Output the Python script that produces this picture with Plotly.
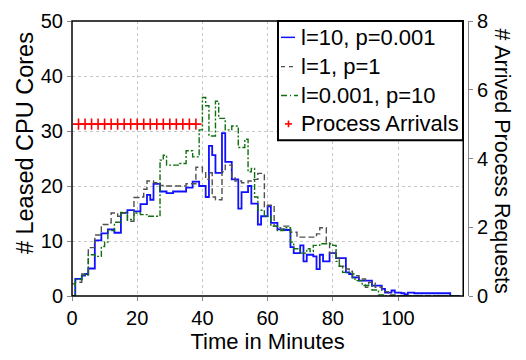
import plotly.graph_objects as go

minutes = list(range(0, 120))

blue_l10_p0001 = [
    0, 3.1, 3.1, 3.7, 4.0, 5.0, 5.0, 10.1, 10.1, 11.4,
    11.4, 12.1, 12.1, 11.5, 11.5, 15.1, 15.1, 15.6, 15.6, 15.4,
    15.4, 16.7, 16.7, 18.4, 17.5, 20.4, 20.4, 19.0, 19.0, 18.7,
    18.7, 19.0, 19.0, 19.0, 19.0, 19.7, 19.7, 20.8, 20.8, 20.0,
    20.0, 18.0, 27.3, 25.6, 22.4, 22.4, 29.6, 24.4, 24.4, 21.2,
    21.2, 15.9, 18.9, 18.9, 20.0, 16.8, 16.8, 13.0, 14.5, 14.5,
    16.3, 13.3, 13.3, 12.1, 12.1, 12.0, 12.0, 8.9, 7.8, 7.8,
    9.2, 6.3, 7.5, 7.5, 7.2, 4.9, 7.5, 6.3, 6.3, 7.8,
    7.8, 6.9, 6.9, 6.9, 4.3, 4.0, 3.4, 3.4, 2.8, 2.8,
    2.8, 2.8, 1.9, 1.9, 1.9, 1.3, 0.6, 0.6, 1.0, 0.6,
    0.6, 0.5, 0.3, 0.6, 0.6, 0.5, 0.5, 0.5, 0.5, 0.5,
    0.5, 0.5, 0.5, 0.5, 0.5, 0.5, 0, 0, 0, 0,
]

gray_l1_p1 = [
    2.2, 2.5, 2.5, 4.0, 4.0, 8.8, 8.8, 11.1, 11.1, 13.0,
    13.0, 13.3, 15.1, 15.1, 14.5, 15.1, 15.1, 13.6, 13.6, 17.9,
    17.9, 18.0, 19.4, 20.9, 20.9, 20.6, 20.6, 20.1, 20.1, 20.0,
    20.0, 20.0, 20.0, 20.0, 20.0, 20.4, 20.4, 20.4, 23.4, 23.4,
    22.6, 21.2, 22.4, 18.0, 17.5, 17.5, 22.6, 23.8, 23.8, 21.5,
    20.9, 20.9, 20.6, 20.6, 20.9, 21.2, 21.2, 22.3, 22.3, 16.2,
    16.5, 16.5, 12.7, 12.4, 12.1, 12.7, 12.7, 11.6, 11.6, 10.7,
    10.7, 10.7, 10.7, 10.7, 10.7, 11.3, 12.4, 12.4, 9.8, 7.8,
    8.1, 6.9, 5.4, 5.4, 4.9, 4.5, 4.0, 3.7, 3.1, 3.1,
    1.6, 2.5, 2.5, 1.6, 1.6, 0.8, 0.8, 0.2, 0.2, 0.2,
    0, 0, 0, 0, 0, 0, 0, 0, 0, 0,
    0, 0, 0, 0, 0, 0, 0, 0, 0, 0,
]

green_l0001_p10 = [
    0, 3.0, 3.0, 3.8, 3.8, 7.5, 7.5, 7.2, 7.2, 9.0,
    9.8, 11.9, 11.9, 13.4, 13.4, 15.2, 15.2, 13.9, 13.9, 15.1,
    15.1, 14.8, 14.8, 14.5, 14.5, 14.5, 14.5, 24.7, 25.6, 23.8,
    23.8, 23.8, 23.8, 24.1, 24.1, 26.4, 26.4, 25.3, 25.3, 30.2,
    36.1, 34.6, 29.1, 29.1, 35.4, 32.3, 32.3, 30.2, 30.2, 30.9,
    30.9, 27.0, 27.0, 28.5, 22.6, 23.2, 18.0, 15.6, 15.6, 14.5,
    14.5, 12.7, 12.7, 11.9, 11.9, 12.4, 12.4, 9.8, 8.6, 8.6,
    7.8, 7.8, 8.6, 8.1, 9.2, 9.2, 9.5, 9.5, 9.5, 9.5,
    9.2, 6.3, 5.4, 4.3, 4.3, 4.3, 3.1, 2.8, 2.8, 1.9,
    1.9, 1.9, 1.1, 1.1, 0.2, 0.2, 0, 0, 0, 0,
    0, 0, 0, 0, 0, 0, 0, 0, 0, 0,
    0, 0, 0, 0, 0, 0, 0, 0, 0, 0,
]

arrival_times = [2, 4, 6, 8, 10, 12, 14, 16, 18, 20, 22, 24, 26, 28, 30, 32, 34, 36, 38]
arrival_counts = [5, 5, 5, 5, 5, 5, 5, 5, 5, 5, 5, 5, 5, 5, 5, 5, 5, 5, 5]

left_ticks = [0, 10, 20, 30, 40, 50]
right_ticks = [0, 2, 4, 6, 8]
x_ticks = [0, 20, 40, 60, 80, 100]

series_names = ["l=10, p=0.001", "l=1, p=1", "l=0.001, p=10", "Process Arrivals"]
BLUE, GRAY, GREEN, RED = "#1010ff", "#505050", "#107010", "#ff0000"

FONT = "Liberation Sans, Arial, sans-serif"

# plot area geometry (pixels) used to place the hand-drawn legend box
L, T, PW, PH = 72, 10, 396, 286


def px(xp):
    return (xp - L) / PW


def py(yp):
    return (T + PH - yp) / PH


fig = go.Figure()
fig.add_trace(go.Scatter(
    x=minutes, y=blue_l10_p0001, mode="lines", line_shape="hv",
    name=series_names[0], line=dict(color=BLUE, width=1.8)))
fig.add_trace(go.Scatter(
    x=minutes, y=gray_l1_p1, mode="lines", line_shape="hv",
    name=series_names[1], line=dict(color=GRAY, width=1.4, dash="6px,3px")))
fig.add_trace(go.Scatter(
    x=minutes, y=green_l0001_p10, mode="lines", line_shape="hv",
    name=series_names[2], line=dict(color=GREEN, width=1.4, dash="6px,2px,2px,2px")))
fig.add_trace(go.Scatter(
    x=arrival_times, y=arrival_counts, mode="markers", yaxis="y2",
    name=series_names[3],
    marker=dict(symbol="cross-thin", size=8, line=dict(color=RED, width=1.6), color=RED)))

# legend drawn as a box in the top-right corner
row_y = [27, 57.5, 87.5, 117]
shapes = [
    dict(type="rect", xref="x domain", yref="y domain", x0=0, x1=1, y0=0, y1=1,
         line=dict(color="black", width=1.5), layer="above"),
    dict(type="rect", xref="paper", yref="paper", x0=px(278), x1=px(463), y0=py(134), y1=py(10),
         fillcolor="white", line=dict(color="black", width=2), layer="above"),
    dict(type="line", xref="paper", yref="paper", x0=px(281), x1=px(295), y0=py(row_y[0]), y1=py(row_y[0]),
         line=dict(color=BLUE, width=1.5), layer="above"),
    dict(type="line", xref="paper", yref="paper", x0=px(281), x1=px(297), y0=py(row_y[1]), y1=py(row_y[1]),
         line=dict(color=GRAY, width=1.3, dash="4px,4px"), layer="above"),
    dict(type="line", xref="paper", yref="paper", x0=px(281), x1=px(298), y0=py(row_y[2]), y1=py(row_y[2]),
         line=dict(color=GREEN, width=1.3, dash="6px,3px,1px,3px"), layer="above"),
    dict(type="line", xref="paper", yref="paper", x0=px(285), x1=px(292), y0=py(row_y[3]), y1=py(row_y[3]),
         line=dict(color=RED, width=1.6), layer="above"),
    dict(type="line", xref="paper", yref="paper", x0=px(288.5), x1=px(288.5), y0=py(row_y[3] - 3.5), y1=py(row_y[3] + 3.5),
         line=dict(color=RED, width=1.6), layer="above"),
]

annotations = [
    dict(text="# Arrived Process Requests", textangle=90,
         xref="paper", yref="paper", x=px(502), xanchor="center",
         y=py(155), yanchor="middle", showarrow=False, font=dict(size=21.5)),
    dict(text="# Leased CPU Cores", textangle=-90,
         xref="paper", yref="paper", x=px(25), xanchor="center",
         y=py(137), yanchor="middle", showarrow=False, font=dict(size=23.5)),
]
for name, yy in zip(series_names, row_y):
    annotations.append(dict(text=name, xref="paper", yref="paper", x=px(299), xanchor="left",
                            y=py(yy), yanchor="middle", showarrow=False, font=dict(size=22)))

fig.update_layout(
    width=526, height=360,
    margin=dict(l=72, r=58, t=10, b=64),
    paper_bgcolor="white", plot_bgcolor="white",
    font=dict(family=FONT, size=20, color="black"),
    showlegend=False,
    xaxis=dict(
        domain=[0, 0.988], range=[0, 120],
        tickvals=x_ticks, ticks="outside", ticklen=4, tickcolor="#888888",
        showgrid=True, gridcolor="#c8c8c8", griddash="dot", gridwidth=1,
        zeroline=False, showline=False, ticklabeloverflow="allow",
        title=dict(text="Time in Minutes", font=dict(size=22), standoff=4),
        tickfont=dict(size=20),
    ),
    yaxis=dict(
        range=[0, 50], tickvals=left_ticks, ticks="outside", ticklen=4, tickcolor="#888888",
        showgrid=True, gridcolor="#c8c8c8", griddash="dot", gridwidth=1,
        zeroline=False, showline=False, ticklabeloverflow="allow",
        tickfont=dict(size=20),
    ),
    yaxis2=dict(
        range=[0, 8], tickvals=right_ticks, overlaying="y", side="right",
        anchor="free", position=1.0,
        ticks="outside", ticklen=4, tickcolor="#888888",
        showline=True, linecolor="#888888", linewidth=1,
        showgrid=False, zeroline=False, ticklabeloverflow="allow",
        tickfont=dict(size=20),
    ),
    shapes=shapes,
    annotations=annotations,
)

fig.write_html("out.html", config={"displayModeBar": False},
               post_script="document.body.style.margin='0px';")
